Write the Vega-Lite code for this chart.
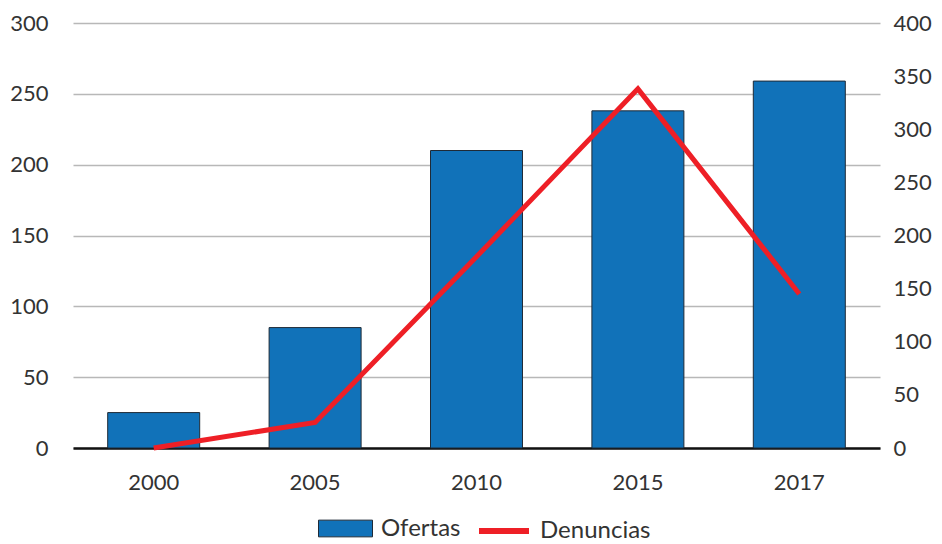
{
  "$schema": "https://vega.github.io/schema/vega-lite/v6.json",
  "width": 807,
  "height": 425,
  "autosize": {"type": "none"},
  "padding": {"left": 73, "top": 23, "right": 62, "bottom": 96},
  "background": "white",
  "config": {
    "font": "Lato",
    "view": {"stroke": null},
    "axis": {"labelFont": "Lato", "labelColor": "#333333", "labelFontSize": 22},
    "legend": {"labelFont": "Lato", "labelColor": "#333333", "labelFontSize": 24, "padding": 0}
  },
  "data": {
    "values": [
      {"anio": "2000", "ofertas": 25, "denuncias": 0},
      {"anio": "2005", "ofertas": 85, "denuncias": 24},
      {"anio": "2010", "ofertas": 210, "denuncias": 180},
      {"anio": "2015", "ofertas": 238, "denuncias": 338},
      {"anio": "2017", "ofertas": 259, "denuncias": 145}
    ]
  },
  "encoding": {
    "x": {
      "field": "anio",
      "type": "ordinal",
      "title": null,
      "scale": {"paddingInner": 0.43, "paddingOuter": 0.215},
      "axis": {
        "labelAngle": 0,
        "ticks": false,
        "domainColor": "#111111",
        "domainWidth": 2.5,
        "labelPadding": 24,
        "labelFontSize": 22
      }
    }
  },
  "layer": [
    {
      "mark": {"type": "bar", "stroke": "#1f2a36", "strokeWidth": 1},
      "encoding": {
        "y": {
          "field": "ofertas",
          "type": "quantitative",
          "title": null,
          "scale": {"domain": [0, 300], "nice": false},
          "axis": {
            "orient": "left",
            "values": [0, 50, 100, 150, 200, 250, 300],
            "domain": false,
            "ticks": false,
            "labelPadding": 25,
            "gridColor": "#b8b8b8",
            "gridWidth": 1.5
          }
        },
        "fill": {
          "datum": "Ofertas",
          "type": "nominal",
          "scale": {"range": ["#1172b9"]},
          "legend": {
            "orient": "none",
            "legendX": 245,
            "legendY": 478,
            "title": null,
            "symbolType": "M-1,-0.31H1V0.31H-1Z",
            "symbolSize": 2916,
            "symbolStrokeColor": "#1f2a36",
            "symbolStrokeWidth": 1,
            "symbolFillColor": "#1172b9",
            "symbolOpacity": 1,
            "labelOffset": 8
          }
        }
      }
    },
    {
      "mark": {"type": "line", "strokeWidth": 5, "strokeCap": "butt", "strokeJoin": "miter"},
      "encoding": {
        "y": {
          "field": "denuncias",
          "type": "quantitative",
          "title": null,
          "scale": {"domain": [0, 400], "nice": false},
          "axis": {
            "orient": "right",
            "values": [0, 50, 100, 150, 200, 250, 300, 350, 400],
            "domain": false,
            "ticks": false,
            "grid": false,
            "labelPadding": 13
          }
        },
        "stroke": {
          "datum": "Denuncias",
          "type": "nominal",
          "scale": {"range": ["#ee1f26"]},
          "legend": {
            "orient": "none",
            "legendX": 403,
            "legendY": 480,
            "title": null,
            "symbolType": "stroke",
            "symbolSize": 2500,
            "symbolStrokeWidth": 6,
            "labelOffset": 8
          }
        }
      }
    }
  ],
  "resolve": {"scale": {"y": "independent"}}
}
